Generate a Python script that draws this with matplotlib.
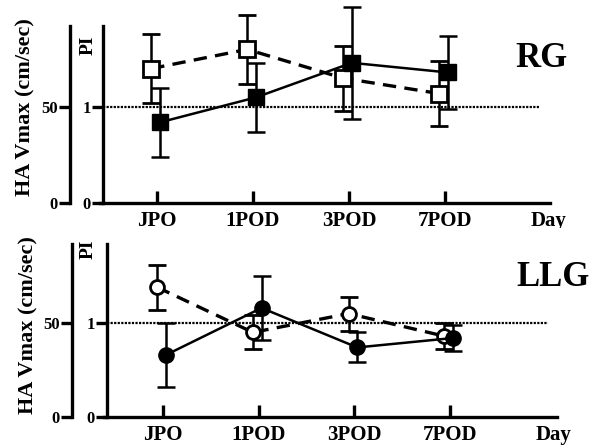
import matplotlib
matplotlib.use("Agg")
from matplotlib import pyplot as plt
import numpy as np

plt.rcParams['font.family'] = ['Liberation Serif', 'DejaVu Serif']
plt.rcParams['font.weight'] = 'bold'

# data (HA Vmax, cm/sec ; PI = HA/50)
days = ["JPO", "1POD", "3POD", "7POD"]

rg_open = [70, 80, 65, 57]
rg_open_err = [18, 18, 17, 17]
rg_fill = [42, 55, 73, 68]
rg_fill_err = [18, 18, 29, 19]

llg_open = [69, 45, 55, 43]
llg_open_err = [12, 9, 9, 7]
llg_fill = [33, 58, 37, 42]
llg_fill_err = [17, 17, 8, 7]

W, H = 601, 446
fig = plt.figure(figsize=(W / 100, H / 100), dpi=100)

def panel(top, bot, xpix, ypix0, ypx, ha_x, pi_x, xend, name, namepos,
          op, ope, fl, fle, omarker, fmarker, oms, fms):
    ax = fig.add_axes([40 / W, 1 - bot / H, 550 / W, (bot - top) / H])
    x0, dx = xpix
    ax.set_xlim((40 - x0) / dx, (590 - x0) / dx)
    ax.set_ylim((ypix0 - bot) / ypx, (ypix0 - top) / ypx)
    x = np.arange(len(days))
    pi_pos = (pi_x - x0) / dx

    # reference line at PI = 1
    ax.plot([pi_pos, xend - 0.1], [50, 50], color='black', lw=1.6,
            ls=(0, (1, 0.6)), zorder=1)

    ax.errorbar(x - 0.06, op, yerr=ope, color='black', lw=2.4, ls=(0, (4, 2.5)),
                marker=omarker, ms=oms, mfc='white', mec='black', mew=2,
                elinewidth=1.8, capsize=6.5, capthick=1.8, zorder=3)
    ax.errorbar(x + 0.03, fl, yerr=fle, color='black', lw=1.8, ls='-',
                marker=fmarker, ms=fms, mfc='black', mec='black',
                elinewidth=1.8, capsize=6.5, capthick=1.8, zorder=4)

    for s in ['top', 'right']:
        ax.spines[s].set_visible(False)
    ax.spines['left'].set_position(('data', pi_pos))
    ax.spines['left'].set_bounds(0, 92)
    ax.spines['left'].set_linewidth(2.4)
    ax.spines['bottom'].set_position(('data', 0))
    ax.spines['bottom'].set_bounds(pi_pos - 0.03, xend)
    ax.spines['bottom'].set_linewidth(2.4)

    ax.set_yticks([0, 50])
    ax.set_yticklabels(['0', '1'], fontsize=12)
    ax.tick_params(axis='y', direction='out', length=8, width=2.4, pad=1)

    ax.set_xticks(list(x) + [4.08])
    ax.set_xticklabels(days + ['Day'], fontsize=15)
    ax.tick_params(axis='x', direction='in', length=9, width=2.4, pad=6)
    ax.xaxis.get_major_ticks()[4].tick1line.set_visible(False)

    sec = ax.secondary_yaxis((ha_x - 40) / 550)
    sec.spines['left'].set_bounds(0, 92)
    sec.spines['left'].set_linewidth(2.4)
    sec.set_yticks([0, 50])
    sec.set_yticklabels(['0', '50'], fontsize=12)
    sec.tick_params(direction='out', length=8, width=2.4, pad=1)

    ax.text((88 - x0) / dx, namepos[2], "PI", rotation=90, fontsize=14,
            ha='center', va='center')
    ax.text(namepos[0], namepos[1], name, fontsize=25, ha='center', va='center')
    return ax

panel(0, 215, (157, 96), 203, 1.92, 70, 103, 4.09, "RG", (4.0, 75.5, 82),
      rg_open, rg_open_err, rg_fill, rg_fill_err, 's', 's', 12, 11)
panel(228, 446, (163, 95.7), 417, 1.88, 72, 107, 4.12, "LLG", (4.08, 74, 89),
      llg_open, llg_open_err, llg_fill, llg_fill_err, 'o', 'o', 10, 11)

fig.text(25 / W, 1 - 107 / H, "HA Vmax (cm/sec)", rotation=90, fontsize=16,
         ha='center', va='center')
fig.text(28 / W, 1 - 325 / H, "HA Vmax (cm/sec)", rotation=90, fontsize=16,
         ha='center', va='center')

fig.savefig("out.png", dpi=100)
